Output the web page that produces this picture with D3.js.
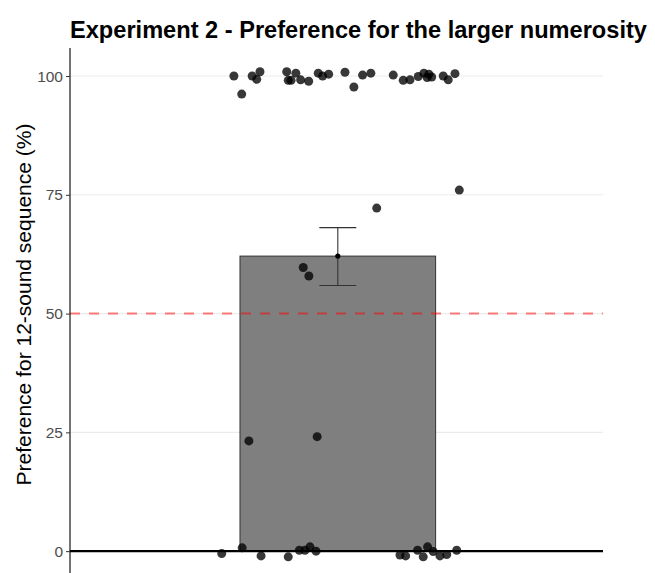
<!DOCTYPE html>
<html>
<head>
<meta charset="utf-8">
<script src="https://cdn.jsdelivr.net/npm/d3@7.9.0/dist/d3.min.js"></script>
<style>
  html, body { margin: 0; padding: 0; background: #fff; }
  svg { display: block; font-family: "Liberation Sans", Arial, sans-serif; }
</style>
</head>
<body>
<div id="chart"></div>
<script>
// summary values
const meanPref = 62.1;
const errUpper = 68.1;
const errLower = 55.9;
const chance = 50;
const yTicks = [0, 25, 50, 75, 100];

// individual participants: horizontal jitter (category units) and preference (%)
const jitterX = [
  -0.478, -0.442, -0.394, -0.373, -0.358, -0.235, -0.228, -0.215, -0.193, -0.171,
  -0.134, -0.090, -0.070, -0.042, 0.033, 0.074, 0.114, 0.152, 0.255, 0.301,
  0.332, 0.370, 0.396, 0.411, 0.419, 0.432, 0.485, 0.508, 0.539,
  0.559, 0.179, -0.159, -0.133, -0.409, -0.095,
  -0.534, -0.440, -0.353, -0.228, -0.177, -0.151, -0.128, -0.100,
  0.286, 0.312, 0.367, 0.393, 0.413, 0.439, 0.470, 0.501, 0.547
];
const prefValues = [
  100.0, 96.2, 100.0, 99.3, 100.9, 100.9, 99.1, 99.1, 100.6, 99.2,
  98.9, 100.6, 100.0, 100.4, 100.8, 97.7, 100.2, 100.6, 100.2, 99.1,
  99.2, 99.9, 100.6, 99.7, 100.4, 99.8, 100.0, 99.2, 100.5,
  76.0, 72.2, 59.7, 57.9, 23.2, 24.1,
  -0.5, 0.7, -1.0, -1.2, 0.2, 0.2, 0.9, 0.0,
  -0.8, -1.0, 0.2, -1.2, 0.9, -0.1, -1.0, -0.7, 0.2
];

const W = 655, H = 573;
const margin = { top: 48, right: 52, bottom: 0, left: 70 };
const svg = d3.select('#chart').append('svg')
  .attr('width', W).attr('height', H);

const x = d3.scaleLinear()
  .domain([-0.232, 2.22])
  .range([margin.left, W - margin.right]);
const y = d3.scaleLinear()
  .domain([-4.6, 105.9])
  .range([H - margin.bottom, margin.top]);
const barW = 0.9;

// gridlines
svg.append('g')
  .selectAll('line').data(yTicks).join('line')
  .attr('x1', margin.left).attr('x2', W - margin.right)
  .attr('y1', d => y(d)).attr('y2', d => y(d))
  .attr('stroke', '#ebebeb').attr('stroke-width', 1.1);

// bar
svg.append('rect')
  .attr('x', x(1 - barW / 2)).attr('width', x(1 + barW / 2) - x(1 - barW / 2))
  .attr('y', y(meanPref)).attr('height', y(0) - y(meanPref))
  .attr('fill', '#7f7f7f').attr('stroke', '#333').attr('stroke-width', 1);

// chance line
svg.append('line')
  .attr('x1', margin.left).attr('x2', W - margin.right)
  .attr('y1', y(chance)).attr('y2', y(chance))
  .attr('stroke', '#ff0000').attr('stroke-opacity', 0.5)
  .attr('stroke-width', 2).attr('stroke-dasharray', '10,9');

// zero line
svg.append('line')
  .attr('x1', margin.left).attr('x2', W - margin.right)
  .attr('y1', y(0)).attr('y2', y(0))
  .attr('stroke', '#000').attr('stroke-width', 2.2);

// points
const pts = jitterX.map((j, i) => ({ x: 1 + j, v: prefValues[i] }));
svg.append('g')
  .selectAll('circle').data(pts).join('circle')
  .attr('cx', d => x(d.x)).attr('cy', d => y(d.v))
  .attr('r', 4.5)
  .attr('fill', '#000').attr('fill-opacity', 0.78);

// error bar
const eb = svg.append('g').attr('stroke', '#333').attr('stroke-width', 1.1);
eb.append('line')
  .attr('x1', x(1)).attr('x2', x(1))
  .attr('y1', y(errUpper)).attr('y2', y(errLower));
[errUpper, errLower].forEach(v => {
  eb.append('line')
    .attr('x1', x(0.915)).attr('x2', x(1.085))
    .attr('y1', y(v)).attr('y2', y(v));
});
svg.append('circle')
  .attr('cx', x(1)).attr('cy', y(meanPref)).attr('r', 2.6).attr('fill', '#000');

// y axis
const yAxis = svg.append('g')
  .attr('transform', `translate(${margin.left},0)`)
  .call(d3.axisLeft(y).tickValues(yTicks).tickSize(4).tickPadding(3));
yAxis.select('.domain').attr('stroke', '#000').attr('stroke-width', 1.1)
  .attr('d', `M0,${margin.top}V${H}`);
yAxis.selectAll('.tick line').attr('stroke', '#333');
yAxis.selectAll('.tick text').attr('fill', '#4d4d4d')
  .style('font-size', '15.5px').style('font-family', '"Liberation Sans", Arial, sans-serif');

// y label
svg.append('text')
  .attr('transform', `translate(31,${(122 + 487) / 2}) rotate(-90)`)
  .attr('text-anchor', 'middle')
  .style('font-size', '21px')
  .text('Preference for 12-sound sequence (%)');

// title
svg.append('text')
  .attr('x', margin.left).attr('y', 38)
  .style('font-size', '23.6px').style('font-weight', 'bold')
  .text('Experiment 2 - Preference for the larger numerosity');
</script>
</body>
</html>
